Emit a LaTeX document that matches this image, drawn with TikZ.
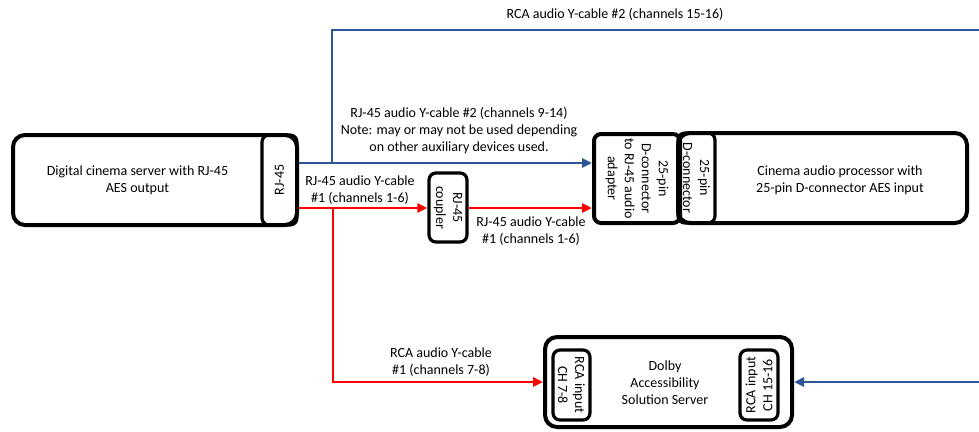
\documentclass[tikz,border=0pt]{standalone}
\usepackage{fontspec}
\setmainfont{Carlito}
\usetikzlibrary{arrows.meta}
\definecolor{cableblue}{RGB}{47,85,151}
\definecolor{cablered}{RGB}{255,0,0}
\tikzset{
  unit/.style={draw, line width=4pt, rounded corners=12pt, inner sep=0pt},
  port/.style={draw, line width=3.2pt, rounded corners=7pt, align=center, inner sep=0pt},
  cable/.style={line width=2.8pt, -{Triangle[length=10pt,width=9pt]}},
  tag/.style={align=center},
}
\begin{document}
\begin{tikzpicture}[x=1pt, y=-1pt, every node/.style={font=\fontsize{14}{17}\selectfont}]
  \useasboundingbox (0,0) rectangle (979,431);
  \clip (0,0) rectangle (979,431);
  % server side
  \node[unit, minimum width=284pt, minimum height=90pt] (server) at (155,180) {};
  \node[tag] (servertext) at (137.5,180) {Digital cinema server with RJ-45\\AES output};
  \node[port, rotate=90, minimum width=90pt, minimum height=35pt] (serverport) at (279.5,180) {RJ-45};
  \node[port, rotate=-90, minimum width=69pt, minimum height=38pt] (coupler) at (448,207.5) {RJ-45\\coupler};
  % processor side
  \node[port, line width=4pt, rotate=-90, minimum width=89pt, minimum height=86pt] (adapter) at (637,178.5) {25-pin\\D-connector\\to RJ-45 audio\\adapter};
  \node[unit, minimum width=289pt, minimum height=90pt] (processor) at (822.5,178) {};
  \node[tag] (processortext) at (840,180) {Cinema audio processor with\\25-pin D-connector AES input};
  \node[port, rotate=-90, minimum width=90pt, minimum height=37pt] (processorport) at (696.5,178) {25-pin\\D-connector};
  % accessibility server
  \node[unit, minimum width=247pt, minimum height=90pt] (dolby) at (668.5,382) {};
  \node[tag] (dolbytext) at (665,383) {Dolby\\Accessibility\\Solution Server};
  \node[port, rotate=-90, minimum width=70pt, minimum height=37pt] (dolbyleft) at (571.5,385) {RCA input\\CH 7-8};
  \node[port, rotate=90, minimum width=70pt, minimum height=38pt] (dolbyright) at (759,385) {RCA input\\CH 15-16};
  % cables
  \coordinate (bluesplit) at (332,163);
  \coordinate (redsplit) at (333,208);
  \coordinate (blueright) at (995,30);
  \draw[cable, cableblue] (server.east |- bluesplit) -- (adapter.south |- bluesplit);
  \draw[cable, cableblue] (bluesplit) |- (blueright) |- (dolby.east);
  \draw[cable, cablered] (server.east |- redsplit) -- (coupler.south |- redsplit);
  \draw[cable, cablered] (coupler.north |- redsplit) -- (adapter.south |- redsplit);
  \draw[cable, cablered] (redsplit) |- (dolby.west);
  % cable labels
  \node[tag] (lblrcatwo) at (615,14) {RCA audio Y-cable \#2 (channels 15-16)};
  \node[tag] (lblrjtwo) at (459,131) {RJ-45 audio Y-cable \#2 (channels 9-14)\\Note: may or may not be used depending\\on other auxiliary devices used.};
  \node[tag] (lblrjone) at (360,190) {RJ-45 audio Y-cable\\\#1 (channels 1-6)};
  \node[tag] (lblrjonecoupled) at (531,231) {RJ-45 audio Y-cable\\\#1 (channels 1-6)};
  \node[tag] (lblrcaone) at (441,362) {RCA audio Y-cable\\\#1 (channels 7-8)};
\end{tikzpicture}
\end{document}
